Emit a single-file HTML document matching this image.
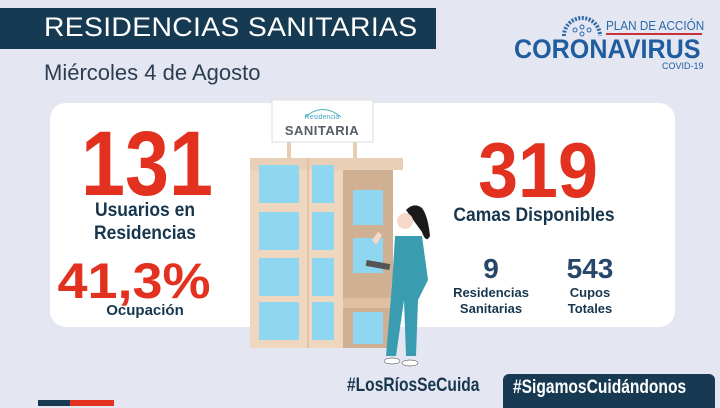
<!DOCTYPE html>
<html><head><meta charset="utf-8"><style>
*{margin:0;padding:0;box-sizing:border-box}
body{width:720px;height:406px;background:#e4e6f2;position:relative;overflow:hidden;font-family:"Liberation Sans",sans-serif}
.a{position:absolute}
.t{position:absolute;white-space:nowrap;text-align:center;font-weight:bold}
.red{color:#e2321f}
.nv{color:#17364d}
</style></head><body>
<div class="a" style="left:0;top:8px;width:436px;height:41px;background:#163a52"></div>
<div class="a" style="left:44px;top:12px;color:#fff;font-size:27px;letter-spacing:0.3px;white-space:nowrap;transform:scaleX(1.05);transform-origin:left">RESIDENCIAS SANITARIAS</div>
<div class="a" style="left:44px;top:60px;color:#2d3e50;font-size:22px;white-space:nowrap">Miércoles 4 de Agosto</div>

<!-- logo -->
<svg class="a" style="left:560px;top:10px" width="45" height="28" viewBox="0 0 45 28">
<path d="M4 26 A18 18 0 0 1 40 26" fill="none" stroke="#2b68a8" stroke-width="4" stroke-dasharray="2 1.5"/>
<circle cx="15" cy="20" r="2" fill="none" stroke="#2b68a8"/><circle cx="22" cy="17" r="2" fill="none" stroke="#2b68a8"/><circle cx="29" cy="20" r="2" fill="none" stroke="#2b68a8"/><circle cx="22" cy="24" r="2" fill="none" stroke="#2b68a8"/>
</svg>
<div class="a" style="left:606px;top:18px;color:#2b68a8;font-size:13px;white-space:nowrap;transform:scaleX(0.9);transform-origin:left">PLAN DE ACCIÓN</div>
<div class="a" style="left:606px;top:33px;width:96px;height:2px;background:#c8333a"></div>
<div class="a" style="left:514px;top:34px;color:#1f5d9e;font-size:27px;font-weight:bold;white-space:nowrap;transform:scaleX(0.93);transform-origin:left">CORONAVIRUS</div>
<div class="a" style="left:662px;top:61px;color:#1f5d9e;font-size:9px">COVID-19</div>

<!-- card -->
<div class="a" style="left:50px;top:103px;width:625px;height:224px;background:#fff;border-radius:16px"></div>

<div class="t red" style="left:47px;width:200px;top:118px;font-size:92px;line-height:92px;transform:scaleX(0.86)">131</div>
<div class="t nv" style="left:45px;width:200px;top:199px;font-size:19px;line-height:23px;transform:scaleX(0.92)">Usuarios en<br>Residencias</div>
<div class="t red" style="left:34px;width:200px;top:256px;font-size:50px;line-height:50px;transform:scaleX(1.08)">41,3%</div>
<div class="t nv" style="left:45px;width:200px;top:302px;font-size:15px">Ocupación</div>

<div class="t red" style="left:438px;width:200px;top:130px;font-size:78px;line-height:80px;transform:scaleX(0.92)">319</div>
<div class="t nv" style="left:434px;width:200px;top:205px;font-size:19px;transform:scaleX(0.92)">Camas Disponibles</div>
<div class="t nv" style="left:441px;width:100px;top:253px;font-size:28px;color:#27476a">9</div>
<div class="t nv" style="left:540px;width:100px;top:253px;font-size:28px;color:#27476a">543</div>
<div class="t nv" style="left:441px;width:100px;top:285px;font-size:13px;line-height:16px">Residencias<br>Sanitarias</div>
<div class="t nv" style="left:540px;width:100px;top:285px;font-size:13px;line-height:16px">Cupos<br>Totales</div>

<!-- building -->
<svg class="a" style="left:240px;top:95px" width="220" height="280" viewBox="240 95 220 280">
<rect x="287" y="140" width="4" height="20" fill="#e7cdb4"/><rect x="353" y="140" width="4" height="20" fill="#e7cdb4"/>
<rect x="272" y="100" width="101" height="42" fill="#fff" stroke="#ddd"/>
<path d="M305 117 Q323 102 341 117" fill="none" stroke="#4bb1b8" stroke-width="1"/>
<text x="322" y="119" font-size="7" fill="#4aa7c4" text-anchor="middle" font-family="Liberation Sans">Residencia</text>
<text x="322" y="135" font-size="13" font-weight="bold" fill="#555e68" text-anchor="middle" font-family="Liberation Sans" letter-spacing="0.5">SANITARIA</text>
<rect x="250" y="158" width="153" height="12" fill="#e9cfb6"/>
<rect x="250" y="170" width="93" height="178" fill="#efd6bf"/>
<rect x="307" y="158" width="2" height="190" fill="#e0c4aa"/>
<rect x="343" y="170" width="50" height="178" fill="#cfb093"/>
<rect x="343" y="298" width="50" height="10" fill="#dfc0a3"/>
<g fill="#8fd6f0">
<rect x="259" y="165" width="40" height="38"/><rect x="259" y="212" width="40" height="38"/><rect x="259" y="258" width="40" height="38"/><rect x="259" y="302" width="40" height="38"/>
<rect x="312" y="165" width="22" height="38"/><rect x="312" y="212" width="22" height="38"/><rect x="312" y="258" width="22" height="38"/><rect x="312" y="302" width="22" height="38"/>
<rect x="353" y="190" width="30" height="35"/><rect x="353" y="238" width="30" height="35"/><rect x="353" y="312" width="30" height="32"/>
</g>
<!-- nurse -->
<path d="M406 210 q8 -8 16 -2 q6 8 8 28 q-4 8 -8 -4 z" fill="#1a1a1a"/>
<circle cx="405" cy="221" r="8" fill="#f6d9c8"/>
<path d="M395 236 L422 236 L428 280 L418 300 L416 356 L406 356 L404 300 L396 356 L386 356 L392 285 Z" fill="#3a9cb0"/>
<rect x="366" y="262" width="24" height="6" fill="#555" transform="rotate(10 378 265)"/>
<path d="M372 240 l6 -8 l4 3 l-6 10 z" fill="#f6d9c8"/>
<ellipse cx="392" cy="361" rx="8" ry="3" fill="#fff" stroke="#333" stroke-width="0.5"/>
<ellipse cx="410" cy="363" rx="8" ry="3" fill="#fff" stroke="#333" stroke-width="0.5"/>
</svg>

<div class="a" style="left:347px;top:375px;color:#17364d;font-size:19px;font-weight:bold;white-space:nowrap;transform:scaleX(0.82);transform-origin:left">#LosRíosSeCuida</div>
<div class="a" style="left:503px;top:374px;width:212px;height:34px;background:#173a52;border-radius:6px 6px 0 0"></div>
<div class="a" style="left:513px;top:377px;color:#fff;font-size:19px;font-weight:bold;white-space:nowrap;transform:scaleX(0.82);transform-origin:left">#SigamosCuidándonos</div>
<div class="a" style="left:38px;top:400px;width:32px;height:6px;background:#173a52"></div>
<div class="a" style="left:70px;top:400px;width:44px;height:6px;background:#e2321f"></div>
</body></html>
